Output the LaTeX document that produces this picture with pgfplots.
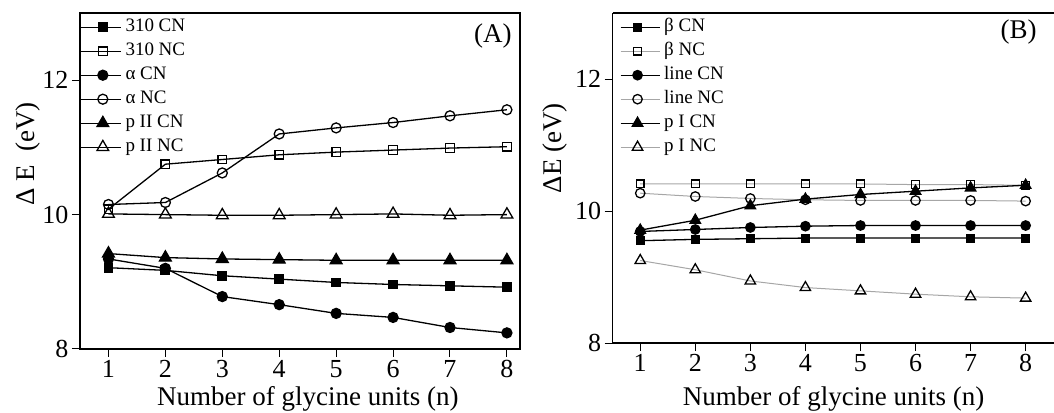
\documentclass[border=0pt]{standalone}
\usepackage{fontspec}
\setmainfont{Liberation Serif}
\usepackage{pgfplots}
\pgfplotsset{compat=1.18}
\newcommand\legf{\fontsize{19}{19}\selectfont}

\pgfplotsset{
  gly/.style={
    scale only axis,
    xmin=0.5, ymin=8, ymax=13,
    xtick={1,...,8}, ytick={8,10,12},
    tick align=outside, xtick pos=left, ytick pos=left,
    major tick length=8pt,
    tick style={line width=1pt, black},
    axis line style={line width=1.3pt},
    ticklabel style={font=\fontsize{26}{26}\selectfont},
    /pgf/number format/assume math mode=true,
    label style={font=\fontsize{27}{27}\selectfont},
    xlabel={Number of glycine units (n)},
    legend cell align=left,
    legend style={at={(0pt,331pt)}, anchor=north west, draw=none, fill=none,
      inner sep=0pt, row sep=6pt, column sep=4pt,
      nodes={inner sep=0pt, text height=13.5pt, text depth=4.5pt}},
  },
  cn/.style={black, line width=1.3pt, mark options={fill=black, solid}},
  nc/.style={black, line width=1.3pt, mark options={fill=white, draw=black, solid}},
  ncg/.style={gray!70, line width=1pt, mark options={fill=white, draw=black, solid, line width=1.3pt}},
}

\begin{document}
\begin{tikzpicture}
\path[use as bounding box] (0pt,0pt) rectangle (1054pt,412pt);

% panel A
\begin{axis}[gly,
  at={(80pt,63pt)}, anchor=south west,
  width=440pt, height=336pt, xmax=8.23,
  ylabel={Δ E\ \ (eV)},
  ylabel style={at={(axis description cs:-0.118,0.58)}, anchor=center},
  xlabel style={at={(axis description cs:0.518,-0.167)}, anchor=base},
  legend image code/.code={
    \draw[#1] (0pt,0pt) -- (40pt,0pt);
    \draw[#1] plot coordinates {(22pt,0pt)};},
]
\addplot[cn, mark=square*, mark size=4.3pt] coordinates {
  (1,9.21) (2,9.17) (3,9.09) (4,9.04) (5,8.99) (6,8.96) (7,8.94) (8,8.92)};
\addlegendentry{\legf 310 CN}
\addplot[nc, mark=square, mark size=4.3pt] coordinates {
  (1,10.08) (2,10.75) (3,10.82) (4,10.89) (5,10.93) (6,10.96) (7,10.99) (8,11.01)};
\addlegendentry{\legf 310 NC}
\addplot[cn, mark=*, mark size=5pt] coordinates {
  (1,9.34) (2,9.20) (3,8.78) (4,8.66) (5,8.53) (6,8.47) (7,8.32) (8,8.24)};
\addlegendentry{\legf α CN}
\addplot[nc, mark=o, mark size=5pt] coordinates {
  (1,10.15) (2,10.18) (3,10.62) (4,11.20) (5,11.29) (6,11.37) (7,11.47) (8,11.56)};
\addlegendentry{\legf α NC}
\addplot[cn, mark=triangle*, mark size=6.8pt] coordinates {
  (1,9.42) (2,9.36) (3,9.34) (4,9.33) (5,9.32) (6,9.32) (7,9.32) (8,9.32)};
\addlegendentry{\legf p II CN}
\addplot[nc, mark=triangle, mark size=6.8pt] coordinates {
  (1,10.01) (2,10.00) (3,9.99) (4,9.99) (5,10.00) (6,10.01) (7,9.99) (8,10.00)};
\addlegendentry{\legf p II NC}
\node[anchor=east, font=\fontsize{27}{27}\selectfont] at (rel axis cs:0.989,0.932) {(A)};
\end{axis}

% panel B
\begin{axis}[gly,
  at={(612.7pt,69pt)}, anchor=south west,
  width=441pt, height=330pt, xmax=8.51,
  separate axis lines, axis x line*=box, axis y line*=left,
  ylabel={ΔE (eV)},
  ylabel style={at={(axis description cs:-0.131,0.59)}, anchor=center},
  xlabel style={at={(axis description cs:0.501,-0.188)}, anchor=base},
  legend style={at={(7pt,325pt)}},
  legend image code/.code={
    \draw[#1] (0pt,0pt) -- (39pt,0pt);
    \draw[#1] plot coordinates {(17pt,0pt)};},
]
\addplot[cn, mark=square*, mark size=3.9pt] coordinates {
  (1,9.55) (2,9.57) (3,9.58) (4,9.59) (5,9.59) (6,9.59) (7,9.59) (8,9.59)};
\addlegendentry{\legf β CN}
\addplot[ncg, mark=square, mark size=3.9pt] coordinates {
  (1,10.41) (2,10.41) (3,10.41) (4,10.41) (5,10.41) (6,10.40) (7,10.40) (8,10.39)};
\addlegendentry{\legf β NC}
\addplot[cn, mark=*, mark size=4.7pt] coordinates {
  (1,9.69) (2,9.72) (3,9.75) (4,9.77) (5,9.78) (6,9.78) (7,9.78) (8,9.78)};
\addlegendentry{\legf line CN}
\addplot[ncg, mark=o, mark size=4.7pt] coordinates {
  (1,10.27) (2,10.22) (3,10.19) (4,10.17) (5,10.16) (6,10.16) (7,10.16) (8,10.15)};
\addlegendentry{\legf line NC}
\addplot[cn, mark=triangle*, mark size=6pt] coordinates {
  (1,9.71) (2,9.86) (3,10.08) (4,10.18) (5,10.25) (6,10.30) (7,10.35) (8,10.39)};
\addlegendentry{\legf p I CN}
\addplot[ncg, mark=triangle, mark size=6pt] coordinates {
  (1,9.25) (2,9.11) (3,8.94) (4,8.84) (5,8.79) (6,8.74) (7,8.70) (8,8.68)};
\addlegendentry{\legf p I NC}
\node[anchor=east, font=\fontsize{27}{27}\selectfont] at (rel axis cs:0.969,0.942) {(B)};
\end{axis}
\end{tikzpicture}
\end{document}
